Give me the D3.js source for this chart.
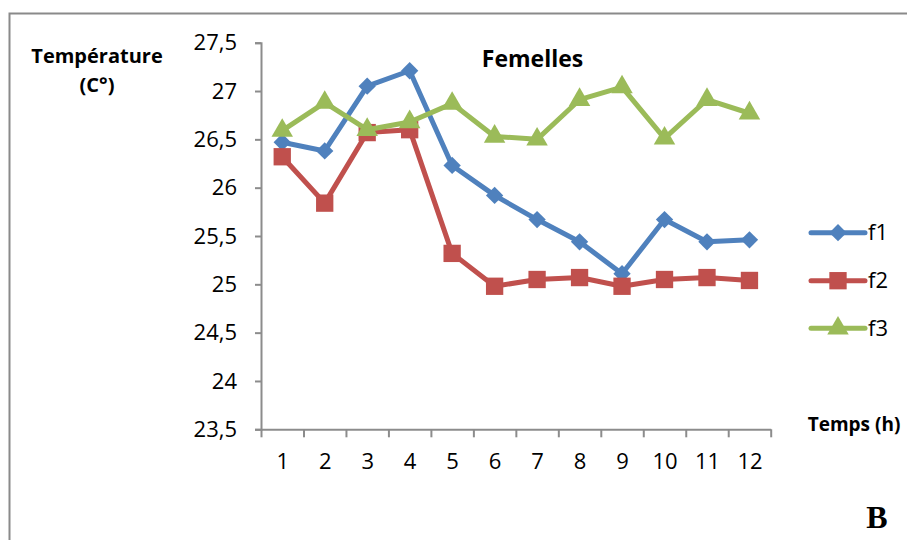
<!DOCTYPE html>
<html>
<head>
<meta charset="utf-8">
<script src="https://cdn.jsdelivr.net/npm/d3@7"></script>
<style>
  html, body { margin: 0; padding: 0; background: #fff; }
  svg { display: block; }
  text { font-family: "Open Sans", "Noto Sans", sans-serif; fill: #000; }
  text.panel-letter { font-family: "Liberation Serif", "DejaVu Serif", serif; }
</style>
</head>
<body>
<svg id="chart" width="907" height="540"></svg>
<script>
// Hourly temperature readings for the three females
const hours = [1, 2, 3, 4, 5, 6, 7, 8, 9, 10, 11, 12];
const f1 = [26.47, 26.38, 27.05, 27.21, 26.23, 25.92, 25.67, 25.44, 25.11, 25.67, 25.44, 25.46];
const f2 = [26.32, 25.84, 26.57, 26.60, 25.32, 24.98, 25.05, 25.07, 24.98, 25.05, 25.07, 25.04];
const f3 = [26.59, 26.88, 26.60, 26.68, 26.87, 26.53, 26.50, 26.91, 27.04, 26.51, 26.91, 26.77];
const seriesNames = ["f1", "f2", "f3"];
const yTicks = [23.5, 24, 24.5, 25, 25.5, 26, 26.5, 27, 27.5];

// diamond = square turned by 45 degrees
const series = [
  { name: seriesNames[0], values: f1, color: "#4F81BD", symbol: d3.symbolSquare, size: 150, rotate: 45 },
  { name: seriesNames[1], values: f2, color: "#C0504D", symbol: d3.symbolSquare, size: 300, rotate: 0 },
  { name: seriesNames[2], values: f3, color: "#9BBB59", symbol: d3.symbolTriangle, size: 200, rotate: 0 }
];

const svg = d3.select("#chart");
const axisColor = "#8c8c8c";

// outer frame (continues past the right and bottom edges)
svg.append("path")
  .attr("d", "M9.5,545 L9.5,13.5 L915,13.5")
  .attr("fill", "none")
  .attr("stroke", "#8a8a8a")
  .attr("stroke-width", 2);

const x = d3.scaleLinear().domain([0.5, 12.5]).range([261, 770.7]);
const y = d3.scaleLinear().domain([23.5, 27.5]).range([429.3, 42.7]);

const fr = d3.formatLocale({ decimal: ",", thousands: " ", grouping: [3], currency: ["", " €"] });
const fmt = fr.format(".1~f");

// y axis
const gy = svg.append("g")
  .attr("transform", `translate(${x.range()[0]},0)`)
  .call(d3.axisLeft(y).tickValues(yTicks).tickFormat(fmt).tickSize(6).tickPadding(18));
gy.select(".domain").attr("stroke", axisColor).attr("stroke-width", 2);
gy.selectAll(".tick line").attr("stroke", axisColor).attr("stroke-width", 2);
gy.selectAll(".tick text").attr("font-size", 22).attr("fill", "#000");

// x axis: tick marks on category boundaries, labels at category centres
const bounds = d3.range(0.5, 12.6, 1);
const gx = svg.append("g")
  .attr("transform", `translate(0,${y(23.5)})`)
  .call(d3.axisBottom(x).tickValues(bounds).tickFormat("").tickSize(8).tickSizeOuter(0));
gx.select(".domain").attr("stroke", axisColor).attr("stroke-width", 2);
gx.selectAll(".tick line").attr("stroke", axisColor).attr("stroke-width", 2);

const gxl = svg.append("g")
  .attr("transform", `translate(0,${y(23.5)})`)
  .call(d3.axisBottom(x).tickValues(hours).tickFormat(d3.format("d")).tickSize(0).tickPadding(24));
gxl.select(".domain").remove();
gxl.selectAll(".tick text").attr("font-size", 22).attr("fill", "#000");

// series lines and markers
const line = d3.line().x((d, i) => x(hours[i])).y(d => y(d));

series.forEach(s => {
  svg.append("path")
    .datum(s.values)
    .attr("d", line)
    .attr("fill", "none")
    .attr("stroke", s.color)
    .attr("stroke-width", 5)
    .attr("stroke-linejoin", "round");
  svg.append("g").selectAll("path")
    .data(s.values)
    .join("path")
    .attr("d", d3.symbol().type(s.symbol).size(s.size))
    .attr("transform", (d, i) => `translate(${x(hours[i])},${y(d)}) rotate(${s.rotate})`)
    .attr("fill", s.color);
});

// legend
const legY = [232.7, 280.7, 328.3];
series.forEach((s, i) => {
  const g = svg.append("g").attr("transform", `translate(0,${legY[i]})`);
  g.append("line")
    .attr("x1", 811).attr("x2", 865)
    .attr("stroke", s.color).attr("stroke-width", 5).attr("stroke-linecap", "round");
  g.append("path")
    .attr("d", d3.symbol().type(s.symbol).size(s.size))
    .attr("transform", `translate(838,0) rotate(${s.rotate})`)
    .attr("fill", s.color);
  g.append("text")
    .attr("x", 868).attr("y", 0).attr("dy", "0.35em")
    .attr("font-size", 22)
    .text(s.name);
});

// titles
svg.append("text")
  .attr("x", 532.5).attr("y", 66.5)
  .attr("text-anchor", "middle")
  .attr("font-size", 23).attr("font-weight", "bold")
  .text("Femelles");

svg.append("text")
  .attr("x", 97).attr("y", 62.5)
  .attr("text-anchor", "middle")
  .attr("font-size", 20).attr("font-weight", "bold")
  .text("Température");
svg.append("text")
  .attr("x", 97).attr("y", 92)
  .attr("text-anchor", "middle")
  .attr("font-size", 20).attr("font-weight", "bold")
  .text("(C°)");

svg.append("text")
  .attr("x", 854).attr("y", 431)
  .attr("text-anchor", "middle")
  .attr("font-size", 19).attr("font-weight", "bold")
  .text("Temps (h)");

svg.append("text")
  .attr("class", "panel-letter")
  .attr("x", 877).attr("y", 528)
  .attr("text-anchor", "middle")
  .attr("font-size", 32).attr("font-weight", "bold")
  .text("B");
</script>
</body>
</html>
